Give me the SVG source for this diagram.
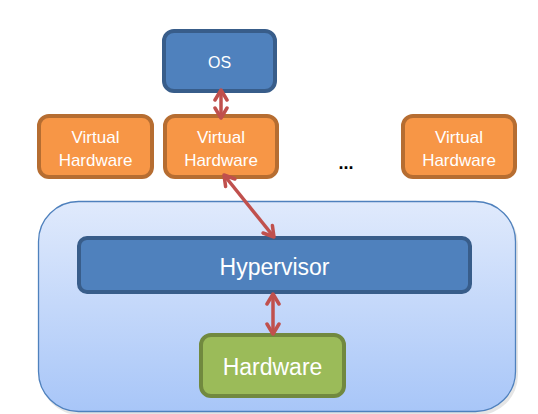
<svg xmlns="http://www.w3.org/2000/svg" width="538" height="414" viewBox="0 0 538 414">
<defs>
<linearGradient id="hostGrad" x1="0" y1="0" x2="0" y2="1">
<stop offset="0" stop-color="#e0eafc"/>
<stop offset="1" stop-color="#a8c6f8"/>
</linearGradient>
<marker id="ah" markerUnits="userSpaceOnUse" markerWidth="16" markerHeight="16" viewBox="0 0 16 16" refX="13" refY="8" orient="auto-start-reverse">
<path d="M3,2 L13,8 L3,14" fill="none" stroke="#c0504d" stroke-width="3.5" stroke-linecap="round" stroke-linejoin="round"/>
</marker>
</defs>
<style>
.blue{fill:#4f81bd;stroke:#385d8a;stroke-width:4}
.orange{fill:#f79646;stroke:#b66d31;stroke-width:4}
.green{fill:#9bbb59;stroke:#71893f;stroke-width:4}
.lbl{font-family:"Liberation Sans",Arial,sans-serif;fill:#ffffff;text-anchor:middle}
.vh{font-size:17px}
.big{font-size:23px}
.os{font-size:16px}
.conn{stroke:#c0504d;stroke-width:3.5;fill:none;marker-start:url(#ah);marker-end:url(#ah)}
</style>
<rect width="538" height="414" fill="#ffffff"/>
<g id="host">
<rect x="40" y="204" width="478" height="211" rx="40" fill="#000000" opacity="0.1"/>
<rect x="38.5" y="201.5" width="477" height="210" rx="40" fill="url(#hostGrad)" stroke="#4f81bd" stroke-width="1.3"/>
</g>
<g id="os">
<rect class="blue" x="164" y="31" width="111" height="60" rx="10"/>
<text class="lbl os" x="219.5" y="68">OS</text>
</g>
<g id="vh1">
<rect class="orange" x="39" y="116" width="113" height="61" rx="10"/>
<text class="lbl vh" x="95.5" y="143">Virtual</text>
<text class="lbl vh" x="95.5" y="166">Hardware</text>
</g>
<g id="vh2">
<rect class="orange" x="165" y="116" width="112" height="61" rx="10"/>
<text class="lbl vh" x="221" y="143">Virtual</text>
<text class="lbl vh" x="221" y="166">Hardware</text>
</g>
<g id="dots">
<text x="346" y="169" font-family="Liberation Sans,Arial,sans-serif" font-size="18" font-weight="bold" fill="#000000" text-anchor="middle">...</text>
</g>
<g id="vh3">
<rect class="orange" x="403" y="116" width="112" height="61" rx="10"/>
<text class="lbl vh" x="459" y="143">Virtual</text>
<text class="lbl vh" x="459" y="166">Hardware</text>
</g>
<g id="hypervisor">
<rect class="blue" x="79" y="238" width="391" height="54" rx="8"/>
<text class="lbl big" x="274.5" y="275">Hypervisor</text>
</g>
<g id="hardware">
<rect class="green" x="201" y="335" width="143" height="61" rx="10"/>
<text class="lbl big" x="272.5" y="375">Hardware</text>
</g>
<g id="connectors">
<line class="conn" x1="221" y1="90" x2="221" y2="118"/>
<line class="conn" x1="224" y1="175" x2="274" y2="237"/>
<line class="conn" x1="273" y1="294" x2="273" y2="334"/>
</g>
</svg>
